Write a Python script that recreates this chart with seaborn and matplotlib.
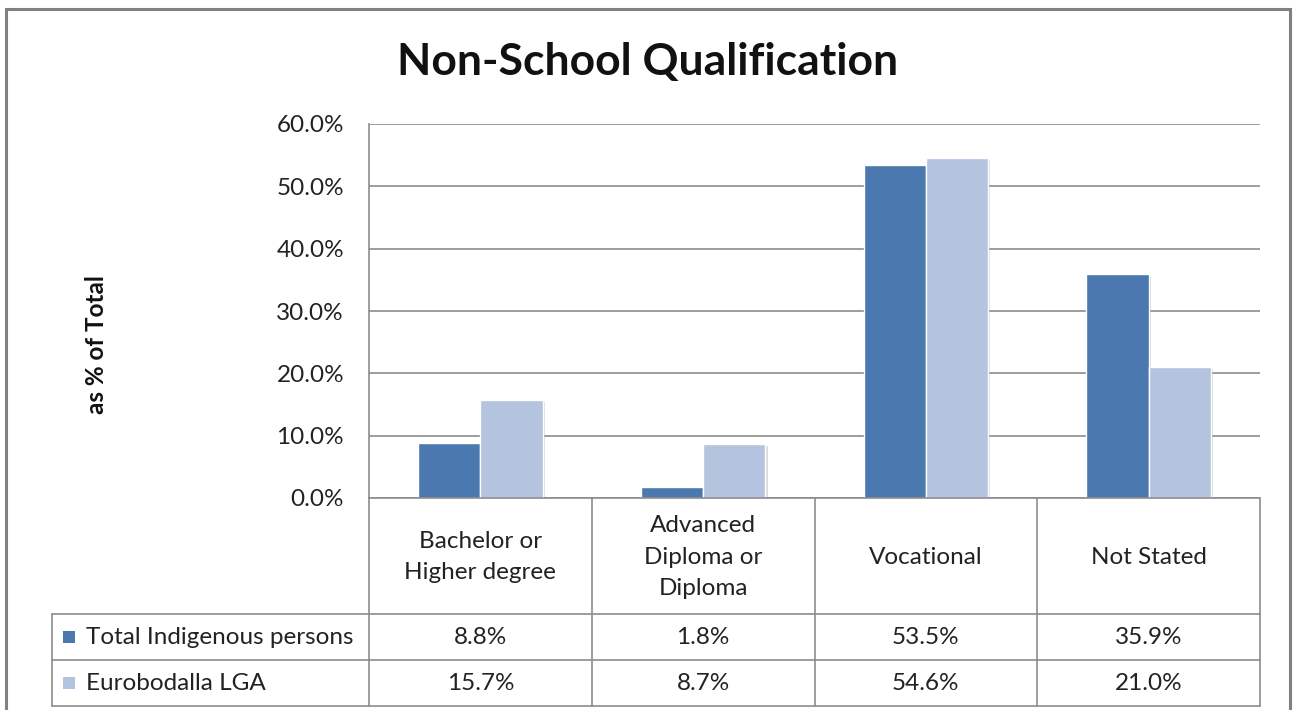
import matplotlib
matplotlib.use("Agg")
import matplotlib.pyplot as plt
import matplotlib.transforms as mtransforms
import matplotlib.patheffects as pe
from matplotlib.lines import Line2D
from matplotlib.patches import Rectangle
import seaborn as sns
import pandas as pd

# ---- data ----
categories = ["Bachelor or\nHigher degree", "Advanced\nDiploma or\nDiploma", "Vocational", "Not Stated"]
series_names = ["Total Indigenous persons", "Eurobodalla LGA"]
indigenous = [8.8, 1.8, 53.5, 35.9]
eurobodalla = [15.7, 8.7, 54.6, 21.0]
yticks = [0, 10, 20, 30, 40, 50, 60]
title = "Non-School Qualification"
ylabel = "as % of Total"

colors = ["#4A78AF", "#B4C3DE"]
grid_col = "#8C8C8C"

sns.set_theme(style="white")
FONT = ["Lato", "DejaVu Sans"]
plt.rcParams["font.family"] = FONT

df = pd.DataFrame({
    "category": categories * 2,
    "series": [series_names[0]] * 4 + [series_names[1]] * 4,
    "value": indigenous + eurobodalla,
})

W, H = 1296, 710
fig = plt.figure(figsize=(W / 100, H / 100), dpi=100)

def fx(px):
    return px / W

def fy(py):
    return 1 - py / H

left, right, top, bottom = 369, 1260, 124, 498
ax = fig.add_axes([fx(left), fy(bottom), fx(right) - fx(left), fy(top) - fy(bottom)])

sns.barplot(data=df, x="category", y="value", hue="series", order=categories,
            hue_order=series_names, palette=colors, width=0.56, gap=0,
            edgecolor="white", linewidth=1.0, saturation=1, ax=ax, legend=False, zorder=3)
for p in ax.patches:
    p.set_path_effects([pe.SimplePatchShadow(offset=(1.5, -1.5), shadow_rgbFace="#999999", alpha=0.35),
                        pe.Normal()])

ax.set_xlim(-0.5, len(categories) - 0.5)
ax.set_ylim(0, 60)
ax.set_yticks(yticks)
ax.set_yticklabels([f"{v:.1f}%" for v in yticks], fontsize=17.5, color="#222222")
ax.tick_params(axis="y", length=0, pad=18)
ax.set_xticks([])
ax.set_xlabel("")
ax.set_ylabel("")
ax.yaxis.grid(True, color=grid_col, linewidth=1.2, zorder=0)
ax.set_axisbelow(True)
for s in ["top", "right", "bottom"]:
    ax.spines[s].set_visible(False)
ax.spines["left"].set_color(grid_col)
ax.spines["left"].set_linewidth(1.2)

# title and y label
fig.text(fx(648), fy(62), title, ha="center", va="center", fontsize=32,
         fontweight="bold", color="#111111")
fig.text(fx(97), fy(345), ylabel, ha="center", va="center", rotation=90,
         fontsize=17.5, fontweight="bold", color="#111111")

# ---- data table ----
bt = mtransforms.blended_transform_factory(ax.transData, fig.transFigure)
row_y = [498, 614, 660, 706]
xb = [i - 0.5 for i in range(len(categories) + 1)]
lw = 1.2
# vertical lines
for xv in xb:
    fig.add_artist(Line2D([xv, xv], [fy(row_y[0]), fy(row_y[-1])], transform=bt,
                          color=grid_col, lw=lw))
fig.add_artist(Line2D([fx(52), fx(52)], [fy(row_y[1]), fy(row_y[-1])],
                      transform=fig.transFigure, color=grid_col, lw=lw))
# horizontal lines
fig.add_artist(Line2D([fx(left), fx(right)], [fy(row_y[0])] * 2, transform=fig.transFigure,
                      color=grid_col, lw=lw))
for yv in row_y[1:]:
    fig.add_artist(Line2D([fx(52), fx(right)], [fy(yv)] * 2, transform=fig.transFigure,
                          color=grid_col, lw=lw))

# category labels
for i, c in enumerate(categories):
    fig.text(i, fy(557), c, transform=bt, ha="center", va="center", fontsize=17.5,
             color="#222222", linespacing=1.6)

# values and legend rows
for r, (name, vals) in enumerate(zip(series_names, [indigenous, eurobodalla])):
    yc = (row_y[r + 1] + row_y[r + 2]) / 2
    for i, v in enumerate(vals):
        fig.text(i, fy(yc), f"{v:.1f}%", transform=bt, ha="center", va="center",
                 fontsize=17.5, color="#222222")
    fig.add_artist(Rectangle((fx(63), fy(yc + 6)), fx(12), fy(0) - fy(12),
                             transform=fig.transFigure, facecolor=colors[r], edgecolor="none"))
    fig.text(fx(86), fy(yc), name, ha="left", va="center", fontsize=17.5, color="#222222")

# outer chart border
fig.add_artist(Rectangle((fx(6), fy(760)), fx(1290) - fx(6), fy(9) - fy(760),
                         transform=fig.transFigure, facecolor="none",
                         edgecolor="#808080", lw=2.2))

fig.savefig("out.png", dpi=100, facecolor="white")
